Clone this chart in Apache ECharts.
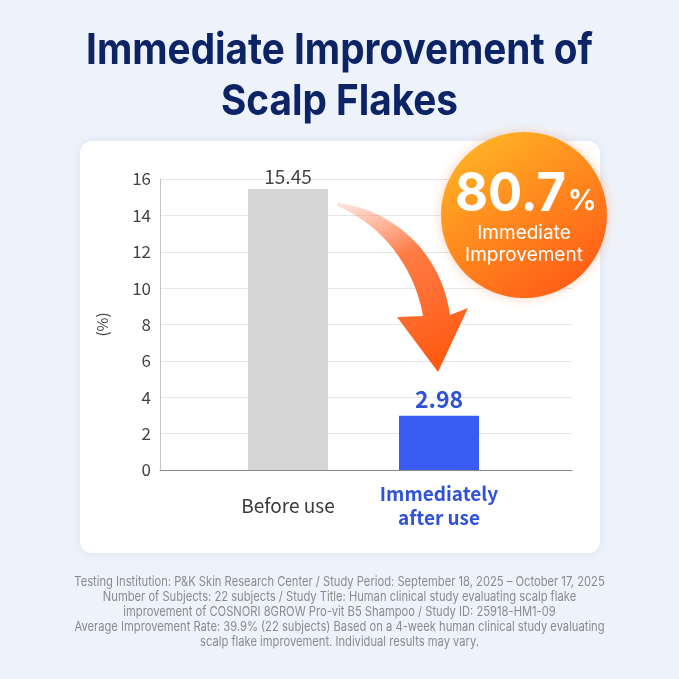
<!DOCTYPE html>
<html>
<head>
<meta charset="utf-8">
<title>Immediate Improvement of Scalp Flakes</title>
<script src="https://cdn.jsdelivr.net/npm/echarts@6/dist/echarts.min.js"></script>
<style>
  html, body { margin: 0; padding: 0; background: #eef3fb; }
  #chart { width: 679px; height: 679px; }
</style>
</head>
<body>
<div id="chart"></div>
<script>
// data
const categories = ['Before use', 'Immediately\nafter use'];
const values = [15.45, 2.98];
const barColors = ['#d6d6d6', '#3a5bf2'];
const yTicks = [0, 2, 4, 6, 8, 10, 12, 14, 16];
const improvement = '80.7';

const titleLines = ['Immediate Improvement of', 'Scalp Flakes'];
const footnote = [
    'Testing Institution: P&K Skin Research Center / Study Period: September 18, 2025 \u2013 October 17, 2025',
    'Number of Subjects: 22 subjects / Study Title: Human clinical study evaluating scalp flake',
    'improvement of COSNORI 8GROW Pro-vit B5 Shampoo / Study ID: 25918-HM1-09',
    'Average Improvement Rate: 39.9% (22 subjects) Based on a 4-week human clinical study evaluating',
    'scalp flake improvement. Individual results may vary.'
];

const FONT = '"Noto Sans CJK KR", "Noto Sans", sans-serif';
const chart = echarts.init(document.getElementById('chart'));

function textEl(text, x, y, opts) {
    return {
        type: 'text',
        x: x, y: y,
        scaleX: opts.scaleX || 1,
        z: opts.z || 50,
        style: {
            text: text,
            fontSize: opts.size,
            fontWeight: opts.weight || 'normal',
            fontFamily: opts.family || 'Inter',
            fill: opts.color,
            align: opts.align || 'center',
            textAlign: opts.align || 'center',
            verticalAlign: 'middle',
            textVerticalAlign: 'middle',
            lineHeight: opts.lineHeight
        }
    };
}

function linear(x, y, x2, y2, stops) {
    return {
        type: 'linear', x: x, y: y, x2: x2, y2: y2,
        colorStops: stops.map(s => ({ offset: s[0], color: s[1] }))
    };
}

// sample a cubic bezier into points (for the decorative arrow outline)
function bezier(p0, p1, p2, p3, n) {
    const pts = [];
    for (let i = 0; i <= n; i++) {
        const t = i / n, u = 1 - t;
        pts.push([
            u * u * u * p0[0] + 3 * u * u * t * p1[0] + 3 * u * t * t * p2[0] + t * t * t * p3[0],
            u * u * u * p0[1] + 3 * u * u * t * p1[1] + 3 * u * t * t * p2[1] + t * t * t * p3[1]
        ]);
    }
    return pts;
}

const arrowPoints = [].concat(
    bezier([337, 203], [385, 208], [440, 245], [450, 315], 24),
    [[468, 308], [438, 372], [397, 317]],
    bezier([423, 316], [415, 270], [385, 226], [337, 206], 24)
);

const barData = values.map((v, i) => ({
    value: v,
    itemStyle: { color: barColors[i] },
    label: i === 0
        ? { color: '#444', fontSize: 19, fontFamily: FONT, distance: 3 }
        : { color: '#2f52d8', fontSize: 23, fontWeight: 'bold', fontFamily: FONT, distance: 5 }
}));

const gridTop = 179, gridBottom = 209;

const option = {
    backgroundColor: '#eef3fb',
    animation: false,
    grid: [
        { left: 160, right: 107, top: gridTop, bottom: gridBottom },
        { left: 212.5, right: 164.5, top: gridTop, bottom: gridBottom }
    ],
    xAxis: [
        {
            type: 'category', gridIndex: 0, data: [''],
            axisLine: { lineStyle: { color: '#8a8a8a', width: 1 } },
            axisTick: { show: false }, axisLabel: { show: false }
        },
        {
            type: 'category', gridIndex: 1, data: categories,
            axisLine: { show: false }, axisTick: { show: false },
            axisLabel: {
                margin: 12,
                interval: 0,
                formatter: (v, i) => i === 0
                    ? '{a|' + v + '}'
                    : v.split('\n').map(s => '{b|' + s + '}').join('\n'),
                rich: {
                    a: { fontSize: 19, color: '#3a3a3a', fontFamily: FONT, lineHeight: 24, padding: [23, 0, 0, 0] },
                    b: { fontSize: 19, color: '#2f52d8', fontWeight: 'bold', fontFamily: FONT, lineHeight: 24 }
                }
            }
        }
    ],
    yAxis: [
        {
            type: 'value', gridIndex: 0,
            min: yTicks[0], max: yTicks[yTicks.length - 1], interval: yTicks[1] - yTicks[0],
            name: '(%)', nameLocation: 'middle', nameGap: 50, nameRotate: 90,
            nameTextStyle: { color: '#444', fontSize: 15, fontFamily: FONT },
            axisLine: { show: true, lineStyle: { color: '#c4c4c4' } },
            axisTick: { show: false },
            axisLabel: { color: '#444', fontSize: 17, fontFamily: FONT, margin: 9 },
            splitLine: { lineStyle: { color: '#e6e6e6' } }
        },
        {
            type: 'value', gridIndex: 1,
            min: yTicks[0], max: yTicks[yTicks.length - 1], interval: yTicks[1] - yTicks[0],
            show: false, splitLine: { show: false }
        }
    ],
    series: [{
        type: 'bar',
        xAxisIndex: 1, yAxisIndex: 1,
        barWidth: 80,
        data: barData,
        label: { show: true, position: 'top' },
        z: 5
    }],
    graphic: [
        // white card
        {
            type: 'rect', z: -10,
            shape: { x: 80, y: 141, width: 520, height: 412, r: 12 },
            style: { fill: '#ffffff', shadowBlur: 12, shadowColor: 'rgba(30,60,140,0.08)' }
        },
        // title
        textEl(titleLines[0], 339.5, 51, { size: 43, weight: 'bold', color: '#0c2466', scaleX: 0.9 }),
        textEl(titleLines[1], 339.5, 102, { size: 43, weight: 'bold', color: '#0c2466', scaleX: 0.9 }),
        // curved arrow
        {
            type: 'polygon', z: 40,
            shape: { points: arrowPoints },
            style: {
                fill: linear(0, 0, 0.6, 1, [
                    [0, 'rgba(255,150,120,0.25)'],
                    [0.4, 'rgba(255,110,50,0.9)'],
                    [1, '#ff5a12']
                ])
            }
        },
        // badge
        {
            type: 'circle', z: 45,
            shape: { cx: 524, cy: 215, r: 83 },
            style: {
                fill: linear(0.2, 0, 0.85, 1, [
                    [0, '#ffb526'],
                    [0.45, '#ff8a1e'],
                    [1, '#ff5716']
                ]),
                shadowBlur: 12, shadowColor: 'rgba(255,110,20,0.3)'
            }
        },
        textEl(improvement, 566, 195, { size: 54, weight: 'bold', color: '#fff', align: 'right', scaleX: 0.94, z: 60 }),
        textEl('%', 568, 202, { size: 28, weight: 'bold', color: '#fff', align: 'left', z: 60 }),
        textEl('Immediate\nImprovement', 524, 244, { size: 19, color: '#fff', lineHeight: 22, z: 60 }),
        // footnote
        textEl(footnote.join('\n'), 339.5, 612, { size: 13, color: '#8a8a8a', lineHeight: 14.8, scaleX: 0.86 })
    ]
};

chart.setOption(option);
</script>
</body>
</html>
